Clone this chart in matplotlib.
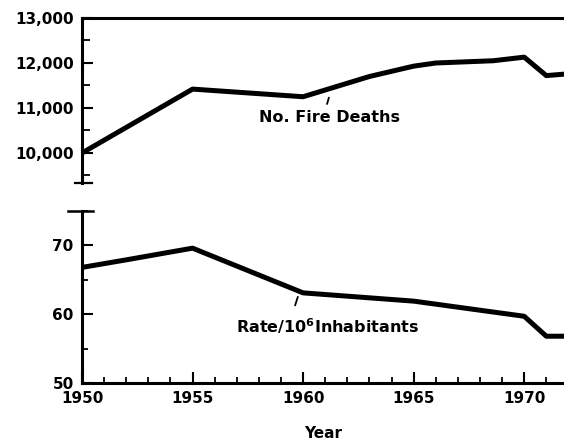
import matplotlib
matplotlib.use("Agg")
import matplotlib.pyplot as plt
from matplotlib.ticker import MultipleLocator, FuncFormatter

# ---- data ----
death_years = [1950, 1955, 1960, 1963, 1965, 1966, 1968.6, 1970, 1971, 1972]
deaths = [10000, 11420, 11250, 11700, 11930, 12000, 12050, 12130, 11720, 11760]

rate_years = [1950, 1952, 1955, 1960, 1965, 1970, 1971, 1972]
rate = [66.8, 67.9, 69.6, 63.1, 61.9, 59.7, 56.8, 56.8]

x_ticks = [1950, 1955, 1960, 1965, 1970]
deaths_ticks = [10000, 11000, 12000, 13000]
rate_ticks = [50, 60, 70]

FONT = "DejaVu Sans"
LW_DATA = 3.6
LW_AXIS = 2.2

fig = plt.figure(figsize=(5.64, 4.41), dpi=100)
fig.patch.set_facecolor("white")

W, H = 564.0, 441.0
x0, x1 = 82, 564
ax_top = fig.add_axes([x0 / W, 1 - 183 / H, (x1 - x0) / W, (183 - 18) / H])
ax_bot = fig.add_axes([x0 / W, 1 - 383 / H, (x1 - x0) / W, (383 - 211) / H])

XLIM = (1950, 1971.8)

# ============ top panel: number of deaths ============
ax_top.plot(death_years, deaths, color="black", lw=LW_DATA, solid_capstyle="butt")
ax_top.set_xlim(*XLIM)
ax_top.set_ylim(9333, 13000)
for s in ("right", "bottom"):
    ax_top.spines[s].set_visible(False)
for s in ("left", "top"):
    ax_top.spines[s].set_linewidth(LW_AXIS)
ax_top.set_xticks([])
ax_top.set_yticks(deaths_ticks)
ax_top.yaxis.set_minor_locator(MultipleLocator(500))
ax_top.yaxis.set_major_formatter(FuncFormatter(lambda v, p: f"{int(v):,}"))
ax_top.tick_params(axis="y", which="major", direction="in", length=8, width=1.5, pad=6)
ax_top.tick_params(axis="y", which="minor", direction="in", length=6, width=1.3)
for lab in ax_top.get_yticklabels():
    lab.set_fontfamily(FONT)
    lab.set_fontweight("bold")
    lab.set_fontsize(11)

# break mark at the foot of the upper axis
ax_top.plot([-0.015, 0.02], [0, 0], transform=ax_top.transAxes, color="black",
            lw=1.6, clip_on=False)

ax_top.text(1961.2, 10780, "No. Fire Deaths", ha="center", va="center",
            fontfamily=FONT, fontweight="bold", fontsize=11.5)
ax_top.annotate("", xy=(1961.2, 11290), xytext=(1961.05, 11030),
                arrowprops=dict(arrowstyle="-", lw=1.3, color="black"))

# ============ bottom panel: rate ============
ax_bot.plot(rate_years, rate, color="black", lw=LW_DATA, solid_capstyle="butt")
ax_bot.set_xlim(*XLIM)
ax_bot.set_ylim(50, 75)
for s in ("right", "top"):
    ax_bot.spines[s].set_visible(False)
for s in ("left", "bottom"):
    ax_bot.spines[s].set_linewidth(LW_AXIS)
ax_bot.set_xticks(x_ticks)
ax_bot.xaxis.set_minor_locator(MultipleLocator(1))
ax_bot.set_yticks(rate_ticks)
ax_bot.yaxis.set_minor_locator(MultipleLocator(5))
ax_bot.tick_params(which="major", direction="in", length=8, width=1.5)
ax_bot.tick_params(which="minor", direction="in", length=4, width=1.3)
ax_bot.tick_params(axis="y", pad=6)
ax_bot.tick_params(axis="x", pad=6)
for lab in ax_bot.get_xticklabels() + ax_bot.get_yticklabels():
    lab.set_fontfamily(FONT)
    lab.set_fontweight("bold")
    lab.set_fontsize(11)

# T mark on top of the lower axis
ax_bot.plot([-0.03, 0.023], [1, 1], transform=ax_bot.transAxes, color="black",
            lw=1.8, clip_on=False)

ax_bot.text(1961.1, 58.3, r"Rate/10$^{\mathbf{6}}$Inhabitants", ha="center", va="center",
            fontfamily=FONT, fontweight="bold", fontsize=11.5)
ax_bot.annotate("", xy=(1959.8, 62.9), xytext=(1959.6, 60.9),
                arrowprops=dict(arrowstyle="-", lw=1.3, color="black"))

ax_bot.set_xlabel("Year", fontfamily=FONT, fontweight="bold", fontsize=11, labelpad=14)

fig.savefig("out.png", dpi=100, facecolor="white")
